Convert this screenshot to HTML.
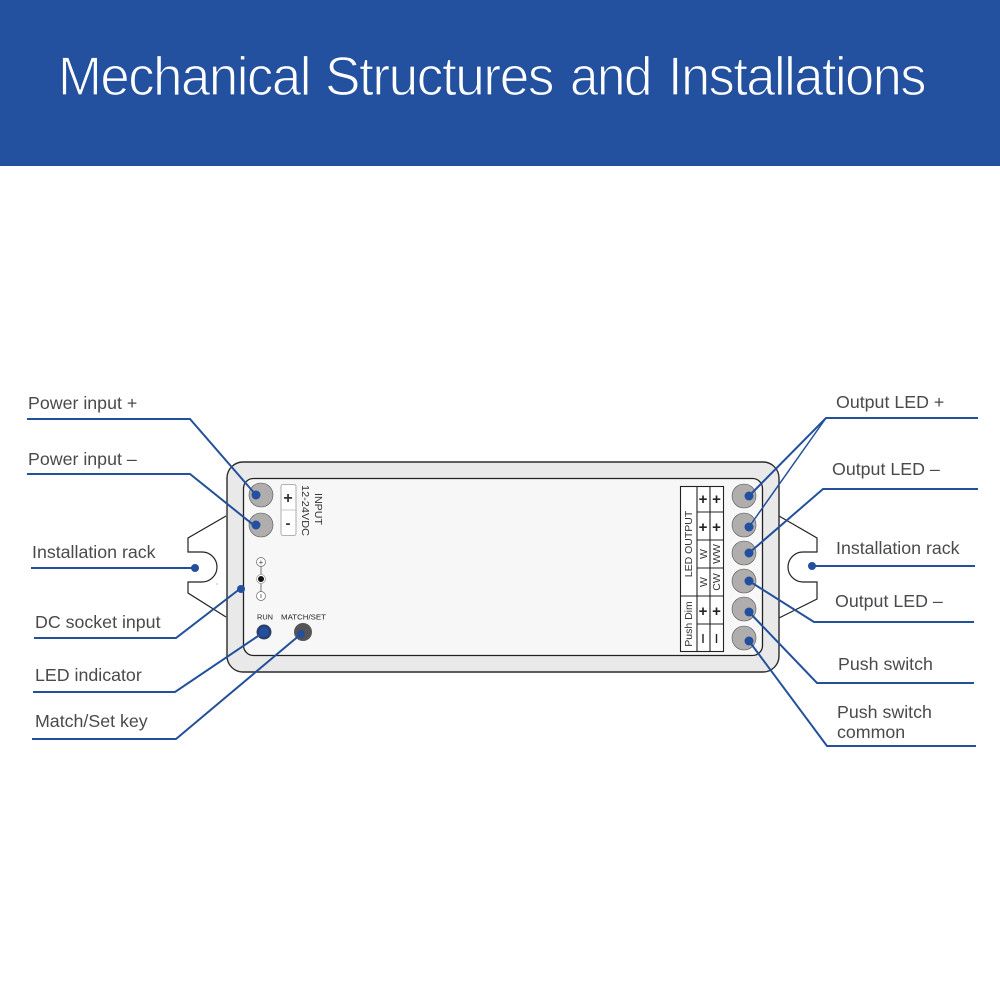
<!DOCTYPE html>
<html><head><meta charset="utf-8"><style>
html,body{margin:0;padding:0;background:#fff}
svg{display:block}
text{font-family:"Liberation Sans",sans-serif}
.l{font-size:17.8px;fill:#4a4a4a}
.t{font-size:10.5px;fill:#333}
.s{font-size:7.5px;fill:#222}
.c{fill:#b0adad;stroke:#555;stroke-width:.6}
.d{fill:#22509f}
.b{fill:none;stroke:#23509b;stroke-width:2}
.h{font-size:55px;letter-spacing:-1.5px;fill:#fff;stroke:#23509f;stroke-width:1.2px}
</style></head><body>
<svg width="1000" height="1000" viewBox="0 0 1000 1000" xmlns="http://www.w3.org/2000/svg">
<rect width="1000" height="1000" fill="#fff"/>
<rect width="1000" height="166" fill="#23509f"/>
<text class="h" x="58" y="95" textLength="252" lengthAdjust="spacingAndGlyphs">Mechanical</text>
<text class="h" x="325" y="95" textLength="228" lengthAdjust="spacingAndGlyphs">Structures</text>
<text class="h" x="570" y="95" textLength="81" lengthAdjust="spacingAndGlyphs">and</text>
<text class="h" x="668" y="95" textLength="257" lengthAdjust="spacingAndGlyphs">Installations</text>

<!-- racks -->
<path d="M226 516L188 538V552H202A15 15 0 0 1 202 582H188V593L226 617" fill="#fff" stroke="#222" stroke-width="1.2"/>
<path d="M779 516L817 538V552H803A15 15 0 0 0 803 582H817V599L779 618" fill="#fff" stroke="#222" stroke-width="1.2"/>
<!-- body -->
<rect x="227" y="462" width="552" height="210" rx="16" fill="#e9e9e9" stroke="#2a2a2a" stroke-width="1.4"/>
<rect x="243.500" y="478.500" width="519" height="177" rx="10" fill="#f7f7f7" stroke="#222" stroke-width="1.3"/>

<!-- left terminals -->
<circle cx="261" cy="495" r="12" class="c"/>
<circle cx="261" cy="525" r="12" class="c"/>
<rect x="281" y="484.500" width="15" height="51" rx="2" fill="#fff" stroke="#999" stroke-width=".8"/>
<line x1="281" y1="510" x2="296" y2="510" stroke="#bbb" stroke-width=".8"/>
<text x="288" y="503" text-anchor="middle" font-size="16" font-weight="bold" fill="#333">+</text>
<text x="288" y="528" text-anchor="middle" font-size="15" font-weight="bold" fill="#333">-</text>
<text class="t" transform="translate(315,493) rotate(90)" textLength="32" lengthAdjust="spacingAndGlyphs">INPUT</text>
<text class="t" transform="translate(302,485) rotate(90)" textLength="51" lengthAdjust="spacingAndGlyphs">12-24VDC</text>

<!-- DC symbol -->
<line x1="261" y1="566" x2="261" y2="592" stroke="#555" stroke-width=".8"/>
<circle cx="261" cy="562" r="4.500" fill="#fff" stroke="#666" stroke-width=".7"/>
<text x="261" y="565" text-anchor="middle" font-size="8" fill="#444">+</text>
<circle cx="261" cy="579" r="4.500" fill="#fff" stroke="#999" stroke-width=".7"/>
<circle cx="261" cy="579" r="3" fill="#111"/>
<circle cx="261" cy="596" r="4.500" fill="#fff" stroke="#666" stroke-width=".7"/>
<line x1="261" y1="594" x2="261" y2="598" stroke="#555" stroke-width=".8"/>
<circle cx="217" cy="584" r=".5" fill="#555"/>

<text class="s" x="265" y="619.500" text-anchor="middle" textLength="16" lengthAdjust="spacingAndGlyphs">RUN</text>
<text class="s" x="303.500" y="619.500" text-anchor="middle" textLength="45" lengthAdjust="spacingAndGlyphs">MATCH/SET</text>
<circle cx="264" cy="632" r="7.500" fill="#2a3f6a"/>
<circle cx="303" cy="632" r="9" fill="#555"/>

<!-- right terminals -->
<circle cx="744" cy="496" r="12" class="c"/>
<circle cx="744" cy="525" r="12" class="c"/>
<circle cx="744" cy="553" r="12" class="c"/>
<circle cx="744" cy="581" r="12" class="c"/>
<circle cx="744" cy="609" r="12" class="c"/>
<circle cx="744" cy="638" r="12" class="c"/>

<!-- table -->
<g fill="none" stroke="#222" stroke-width="1.1">
<rect x="680.500" y="486.500" width="43" height="165" fill="#fff"/>
<path d="M697 486.500V651.500M710 486.500V651.500M697 512H723.500M697 540H723.500M697 568H723.500M680.500 596H723.500M697 624H723.500"/>
</g>
<g font-size="15" font-weight="bold" fill="#222" text-anchor="middle">
<text x="703" y="504">+</text><text x="716.500" y="504">+</text>
<text x="703" y="532">+</text><text x="716.500" y="532">+</text>
<text x="703" y="616">+</text><text x="716.500" y="616">+</text>
</g>
<path d="M703 634V643M716.500 634V643" stroke="#222" stroke-width="1.4"/>
<g font-size="10.500" fill="#333" text-anchor="middle">
<text transform="translate(692,544) rotate(-90)">LED OUTPUT</text>
<text transform="translate(692,624) rotate(-90)">Push Dim</text>
<text transform="translate(707,554) rotate(-90)">W</text>
<text transform="translate(720,554) rotate(-90)">WW</text>
<text transform="translate(707,582) rotate(-90)">W</text>
<text transform="translate(720,582) rotate(-90)">CW</text>
</g>

<!-- leaders -->
<path class="b" d="M27 419H190L256 495"/>
<path class="b" d="M27 474H190L256 527"/>
<path class="b" d="M31 568H195"/>
<path class="b" d="M34 638H176L241 588"/>
<path class="b" d="M33 692H175L264 632"/>
<path class="b" d="M32 739H176L301 634"/>
<path class="b" d="M978 418H826L749 496"/>
<path class="b" style="stroke-width:1.5" d="M826 418L749 527"/>
<path class="b" d="M978 489H823L749 553"/>
<path class="b" d="M975 566H812"/>
<path class="b" d="M974 622H814L749 581"/>
<path class="b" d="M974 683H817L749 612"/>
<path class="b" d="M976 746H827L749 641"/>

<g class="d">
<circle cx="256" cy="495" r="4.500"/><circle cx="256" cy="525" r="4.500"/>
<circle cx="195" cy="568" r="4"/><circle cx="241" cy="589" r="4"/>
<circle cx="264" cy="632" r="5"/><circle cx="301" cy="634" r="4"/>
<circle cx="749" cy="496" r="4.500"/><circle cx="749" cy="527" r="4.500"/>
<circle cx="749" cy="553" r="4.500"/><circle cx="749" cy="581" r="4.500"/>
<circle cx="749" cy="612" r="4.500"/><circle cx="749" cy="641" r="4.500"/>
<circle cx="812" cy="566" r="4"/>
</g>

<!-- labels -->
<text class="l" x="28" y="409">Power input +</text>
<text class="l" x="28" y="465">Power input –</text>
<text class="l" x="32" y="558">Installation rack</text>
<text class="l" x="35" y="628">DC socket input</text>
<text class="l" x="35" y="681">LED indicator</text>
<text class="l" x="35" y="727">Match/Set key</text>
<text class="l" x="836" y="408">Output LED +</text>
<text class="l" x="832" y="475">Output LED –</text>
<text class="l" x="836" y="554">Installation rack</text>
<text class="l" x="835" y="607">Output LED –</text>
<text class="l" x="838" y="670">Push switch</text>
<text class="l" x="837" y="718">Push switch</text>
<text class="l" x="837" y="738">common</text>
</svg>
</body></html>
